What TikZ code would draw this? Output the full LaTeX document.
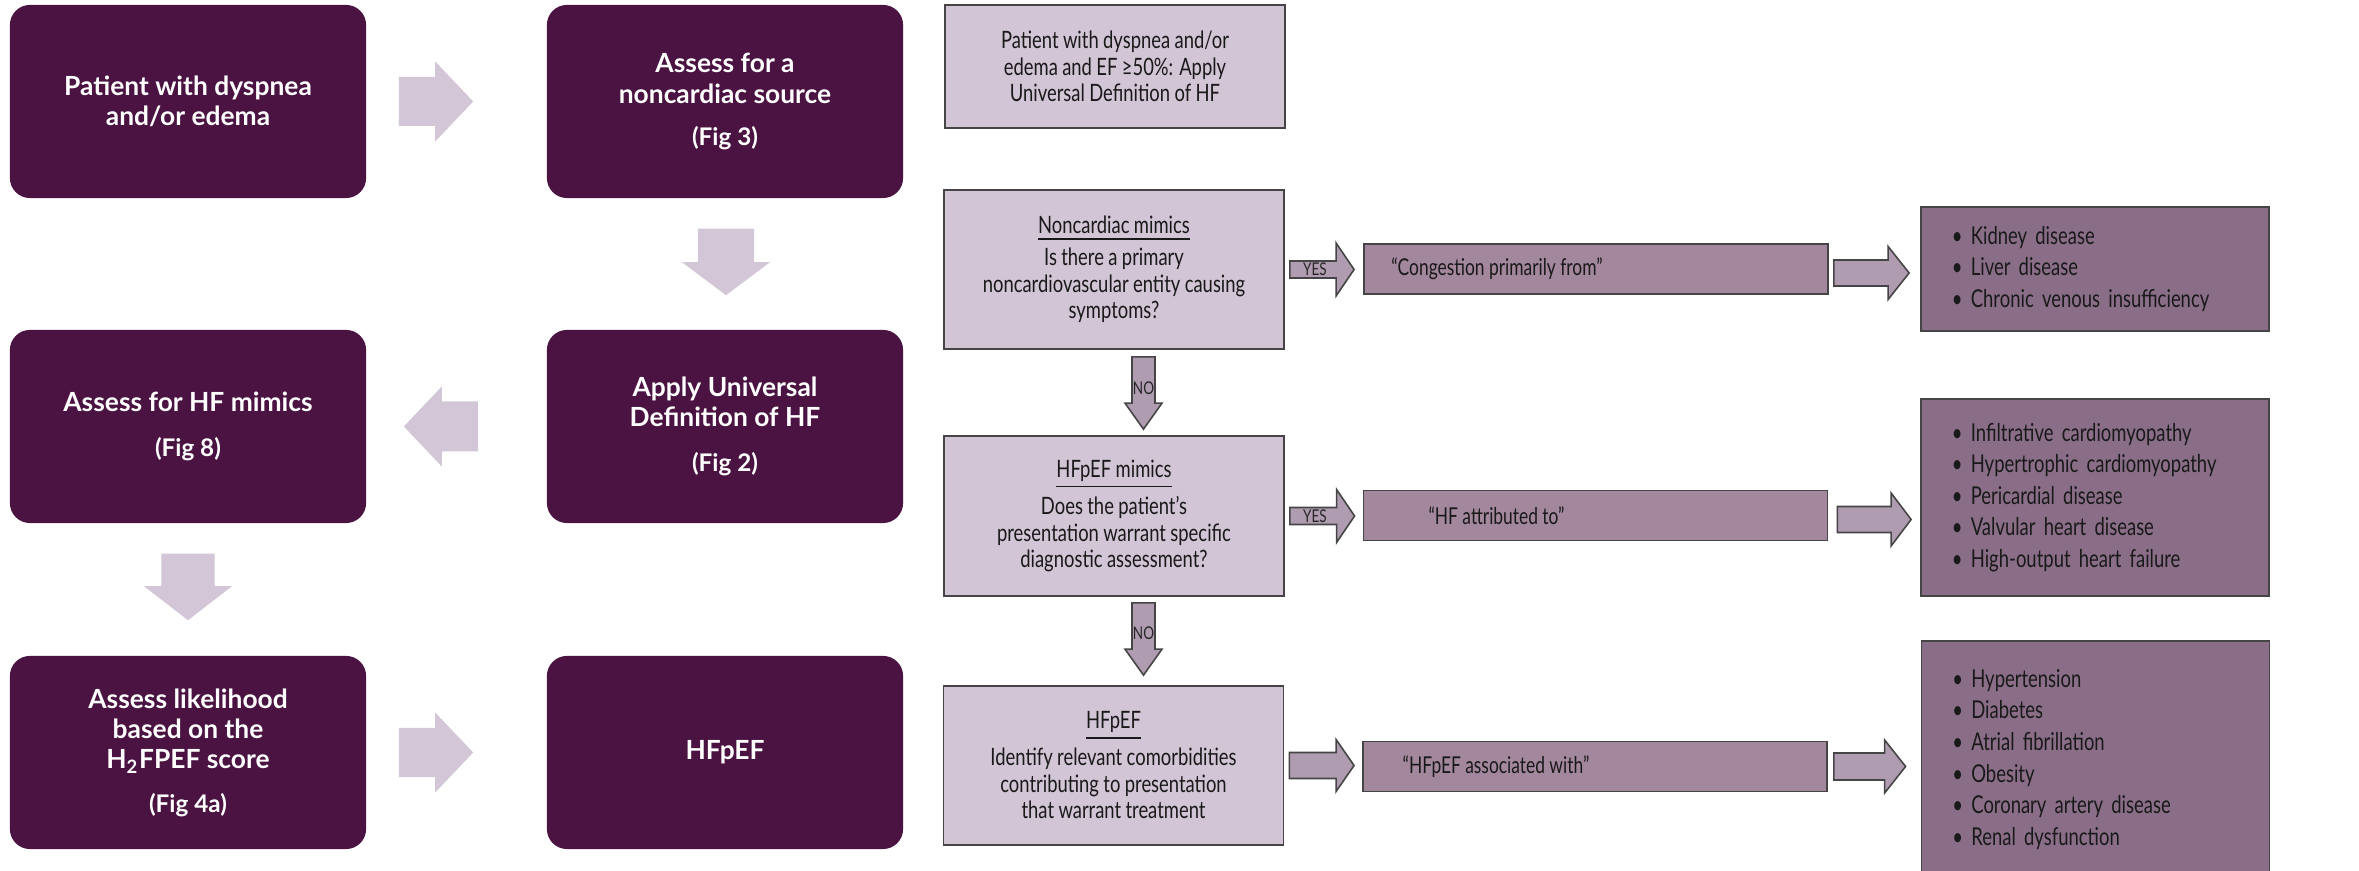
\documentclass[tikz,border=0pt]{standalone}
\usepackage{fontspec}
\setmainfont{Lato}
\newfontfamily\condfont[FakeStretch=0.77]{Lato}
\newfontfamily\listfont[FakeStretch=0.75]{Lato}
\usetikzlibrary{calc}

\definecolor{plum}{HTML}{4A1342}
\definecolor{paleplum}{HTML}{D3C6D6}
\definecolor{lightplum}{HTML}{D2C5D5}
\definecolor{midplum}{HTML}{A3879D}
\definecolor{yesplum}{HTML}{B09CB0}
\definecolor{listplum}{HTML}{8A6E88}
\definecolor{edge}{HTML}{454545}

\newcommand{\pxu}{0.28453pt}
\newcommand{\tightspace}{\spaceskip=1.25pt plus 0.4pt\relax}
\newcommand{\figtag}[1]{{\fontsize{6.9}{8}\selectfont #1}}
% block arrows: [style]{start}{tip}{shaft half}{head half}{head length}
\newcommand{\arrowR}[6][]{\path[#1] let \p1=#2, \p2=#3 in
  (\x1,\y1+#4) -- (\x2-#6,\y1+#4) -- (\x2-#6,\y1+#5) -- (\x2,\y1) -- (\x2-#6,\y1-#5) -- (\x2-#6,\y1-#4) -- (\x1,\y1-#4) -- cycle;}
\newcommand{\arrowL}[6][]{\path[#1] let \p1=#2, \p2=#3 in
  (\x1,\y1+#4) -- (\x2+#6,\y1+#4) -- (\x2+#6,\y1+#5) -- (\x2,\y1) -- (\x2+#6,\y1-#5) -- (\x2+#6,\y1-#4) -- (\x1,\y1-#4) -- cycle;}
\newcommand{\arrowD}[6][]{\path[#1] let \p1=#2, \p2=#3 in
  (\x1+#4,\y1) -- (\x1+#4,\y2+#6) -- (\x1+#5,\y2+#6) -- (\x1,\y2) -- (\x1-#5,\y2+#6) -- (\x1-#4,\y2+#6) -- (\x1-#4,\y1) -- cycle;}

\begin{document}
\begin{tikzpicture}[x=0.01cm,y=-0.01cm,
  darkbox/.style={rectangle,rounded corners=0.2cm,fill=plum,minimum width=3.56cm,minimum height=1.93cm,inner sep=0pt,text=white,align=center,font=\fontsize{7.5}{8.6}\selectfont\bfseries},
  palebox/.style={rectangle,fill=lightplum,draw=edge,line width=0.45pt,minimum width=3.40cm,minimum height=1.59cm,inner sep=0pt,align=center,text=black!90,font=\condfont\fontsize{6.8}{7.6}\selectfont\tightspace},
  quotebox/.style={rectangle,fill=midplum,draw=edge,line width=0.45pt,minimum width=4.64cm,minimum height=0.50cm},
  quotetext/.style={text=black!90,font=\listfont\fontsize{6.6}{7.6}\selectfont\tightspace},
  listbox/.style={rectangle,fill=listplum,draw=edge,line width=0.45pt,text width=2.86cm,inner xsep=0.31cm,inner ysep=0pt,align=left,text=black!90,font=\listfont\fontsize{7}{9}\selectfont\tightspace},
  bigarrow/.style={fill=paleplum},
  smallarrow/.style={fill=yesplum,draw=edge,line width=0.45pt},
  answer/.style={text=black!85,font=\condfont\fontsize{5}{6}\selectfont,inner sep=0pt}]
\useasboundingbox (0,0) rectangle (2359,871);
\clip (0,0) rectangle (2359,871);

% left flow
\node[darkbox] (pat) at (188,101.5) {Patient with dyspnea\\and/or edema};
\node[darkbox] (nonc) at (725,101.5) {Assess for a\\noncardiac source\\[3.3pt]\figtag{(Fig 3)}};
\node[darkbox] (univ) at (725,426.5) {Apply Universal\\Definition of HF\\[4.1pt]\figtag{(Fig 2)}};
\node[darkbox] (mimic) at (188,426.5) {Assess for HF mimics\\[4.1pt]\figtag{(Fig 8)}};
\node[darkbox] (score) at (188,752.5) {Assess likelihood\\based on the\\H\textsubscript{2}FPEF score\\[3.8pt]\figtag{(Fig 4a)}};
\node[darkbox] (hfpef) at (725,752.5) {HFpEF};

\arrowR[bigarrow]{($(pat.east)+(32,0)$)}{($(nonc.west)+(-73,0)$)}{24.5*\pxu}{40*\pxu}{38*\pxu}
\arrowD[bigarrow]{($(nonc.south)+(1,30)$)}{($(univ.north)+(1,-34)$)}{28*\pxu}{44*\pxu}{33*\pxu}
\arrowL[bigarrow]{($(univ.west)+(-68,0)$)}{($(mimic.east)+(37,0)$)}{25*\pxu}{40*\pxu}{38*\pxu}
\arrowD[bigarrow]{($(mimic.south)+(0,30)$)}{($(score.north)+(0,-35)$)}{26.5*\pxu}{44*\pxu}{34*\pxu}
\arrowR[bigarrow]{($(score.east)+(32,0)$)}{($(hfpef.west)+(-73,0)$)}{24.5*\pxu}{40*\pxu}{38*\pxu}

% right flow
\node[palebox,minimum height=1.23cm] (ef) at (1115,66.5) {Patient with dyspnea and/or\\edema and EF ≥50\%: Apply\\Universal Definition of HF};
\node[palebox] (ncm) at (1114,269.5) {\underline{Noncardiac mimics}\\[1.4pt]Is there a primary\\noncardiovascular entity causing\\symptoms?};
\node[palebox,minimum height=1.60cm] (hfm) at (1114,516) {\underline{HFpEF mimics}\\[1.2pt]Does the patient’s\\presentation warrant specific\\diagnostic assessment?};
\node[palebox] (hfp) at (1113.5,765.5) {\underline{HFpEF}\\[1.2pt]Identify relevant comorbidities\\contributing to presentation\\that warrant treatment};

\node[quotebox] (cong) at (1596,269) {};
\node[quotetext] (congtext) at ($(cong.center)+(-99,0)$) {“Congestion primarily from”};
\node[quotebox] (attr) at (1595.5,515.5) {};
\node[quotetext] (attrtext) at ($(attr.center)+(-99,0)$) {“HF attributed to”};
\node[quotebox] (assoc) at (1595,766.5) {};
\node[quotetext] (assoctext) at ($(assoc.center)+(-99,0)$) {“HFpEF associated with”};

\node[listbox,minimum height=1.24cm] (k1) at (2095,269) {\textbullet\ Kidney disease\\\textbullet\ Liver disease\\\textbullet\ Chronic venous insufficiency};
\node[listbox,minimum height=1.97cm] (k2) at (2095,497.5) {\textbullet\ Infiltrative cardiomyopathy\\\textbullet\ Hypertrophic cardiomyopathy\\\textbullet\ Pericardial disease\\\textbullet\ Valvular heart disease\\\textbullet\ High-output heart failure};
\node[listbox,minimum height=2.37cm] (k3) at (2095.5,759.5) {\textbullet\ Hypertension\\\textbullet\ Diabetes\\\textbullet\ Atrial fibrillation\\\textbullet\ Obesity\\\textbullet\ Coronary artery disease\\\textbullet\ Renal dysfunction};

\arrowR[smallarrow]{($(ncm.east)+(5,0)$)}{($(cong.west)+(-9,0)$)}{8.5*\pxu}{26.5*\pxu}{18*\pxu}
\node[answer] (yes1) at ($(ncm.east)+(30,0)$) {YES};
\arrowR[smallarrow]{($(hfm.east)+(5,0)$)}{($(attr.west)+(-8,0)$)}{8.5*\pxu}{26.5*\pxu}{18*\pxu}
\node[answer] (yes2) at ($(hfm.east)+(30,0)$) {YES};
\arrowR[smallarrow]{($(hfp.east)+(5,0)$)}{($(assoc.west)+(-8,0)$)}{13*\pxu}{26*\pxu}{18*\pxu}
\arrowD[smallarrow]{($(ncm.south)+(29.5,7)$)}{($(hfm.north)+(29.5,-6)$)}{11.5*\pxu}{18.5*\pxu}{26*\pxu}
\node[answer] (no1) at ($(ncm.south)+(29.5,38)$) {NO};
\arrowD[smallarrow]{($(hfm.south)+(29.5,6)$)}{($(hfp.north)+(29.5,-10)$)}{11.5*\pxu}{18.5*\pxu}{26*\pxu}
\node[answer] (no2) at ($(hfm.south)+(29.5,36)$) {NO};

\arrowR[smallarrow]{($(cong.east)+(5,4)$)}{($(k1.west)+(-11,0)$)}{13*\pxu}{26.5*\pxu}{21*\pxu}
\arrowR[smallarrow]{($(attr.east)+(9,4)$)}{($(k2.west)+(-9,0)$)}{13*\pxu}{26.5*\pxu}{20*\pxu}
\arrowR[smallarrow]{($(assoc.east)+(6,0)$)}{($(k3.west)+(-15,0)$)}{13.5*\pxu}{26.5*\pxu}{21*\pxu}
\end{tikzpicture}
\end{document}
